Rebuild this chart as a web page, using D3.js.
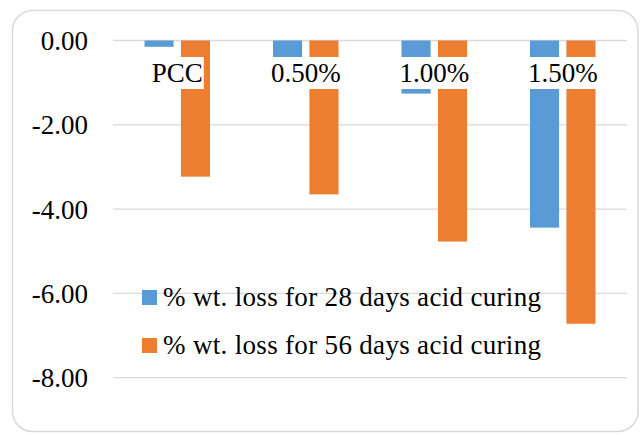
<!DOCTYPE html>
<html>
<head>
<meta charset="utf-8">
<script src="https://cdn.jsdelivr.net/npm/d3@7"></script>
<style>
  html, body { margin: 0; padding: 0; background: #fff; }
  svg { display: block; font-family: "Liberation Serif", "DejaVu Serif", serif; }
</style>
</head>
<body>
<svg id="chart" width="641" height="435"></svg>
<script>
const categories = ["PCC", "0.50%", "1.00%", "1.50%"];
const seriesNames = ["% wt. loss for 28 days acid curing", "% wt. loss for 56 days acid curing"];
const loss28 = [-0.15, -0.6, -1.26, -4.44];
const loss56 = [-3.23, -3.65, -4.77, -6.72];
const yTicks = [0, -2, -4, -6, -8];
const colors = ["#5b9bd5", "#ed7d31"];

const svg = d3.select("#chart");
const plotL = 113, plotR = 627, plotT = 40.5, plotB = 377.7;
const FS = 27;

svg.append("rect")
  .attr("x", 12.5).attr("y", 10.5).attr("width", 625.5).attr("height", 421)
  .attr("rx", 20).attr("ry", 20)
  .attr("fill", "#fff").attr("stroke", "#d9d9d9").attr("stroke-width", 1.5);

const y = d3.scaleLinear().domain([0, -8]).range([plotT, plotB]);
const x0 = d3.scaleBand().domain(categories).range([plotL, plotR]).paddingInner(0.49).paddingOuter(0.245);
const x1 = d3.scaleBand().domain([0, 1]).range([0, x0.bandwidth()]).paddingInner(0.2);

// gridlines
svg.append("g").selectAll("line").data(yTicks).join("line")
  .attr("x1", plotL).attr("x2", plotR)
  .attr("y1", d => y(d)).attr("y2", d => y(d))
  .attr("stroke", "#d9d9d9").attr("stroke-width", 1.3);

// y axis labels
const fmt = d3.format(".2f");
const yAxis = d3.axisLeft(y).tickValues(yTicks).tickFormat(d => fmt(d).replace("\u2212", "-")).tickSize(0).tickPadding(25);
const ga = svg.append("g").attr("transform", `translate(${plotL},0)`).call(yAxis);
ga.select(".domain").remove();
ga.selectAll("text").attr("font-size", FS).attr("fill", "#000")
  .attr("font-family", "Liberation Serif, serif").attr("dy", "0.33em");

// bars
const data = categories.map((c, i) => ({ c, vals: [loss28[i], loss56[i]] }));
const groups = svg.append("g").selectAll("g").data(data).join("g")
  .attr("transform", d => `translate(${x0(d.c)},0)`);
groups.selectAll("rect").data(d => d.vals.map((v, k) => ({ v, k }))).join("rect")
  .attr("x", d => x1(d.k))
  .attr("width", x1.bandwidth())
  .attr("y", y(0))
  .attr("height", d => y(d.v) - y(0))
  .attr("fill", d => colors[d.k]);

// category labels with white background
const lab = svg.append("g").selectAll("g").data(categories).join("g")
  .attr("transform", d => `translate(${x0(d) + x0.bandwidth() / 2},82)`);
lab.append("text").attr("text-anchor", "middle").attr("font-size", FS).attr("fill", "#000").text(d => d);
lab.each(function () {
  const g = d3.select(this);
  const bb = g.select("text").node().getBBox();
  g.insert("rect", "text").attr("x", bb.x - 1).attr("y", -25).attr("width", bb.width + 2).attr("height", 32).attr("fill", "#fff");
});

// legend
const leg = svg.append("g").selectAll("g").data(seriesNames).join("g")
  .attr("transform", (d, i) => `translate(142,${290 + i * 48})`);
leg.append("rect").attr("width", 15).attr("height", 15).attr("fill", (d, i) => colors[i]);
leg.append("text").attr("x", 21).attr("y", 16).attr("font-size", FS).attr("fill", "#000")
  .attr("textLength", 378).attr("lengthAdjust", "spacing").text(d => d);
</script>
</body>
</html>
